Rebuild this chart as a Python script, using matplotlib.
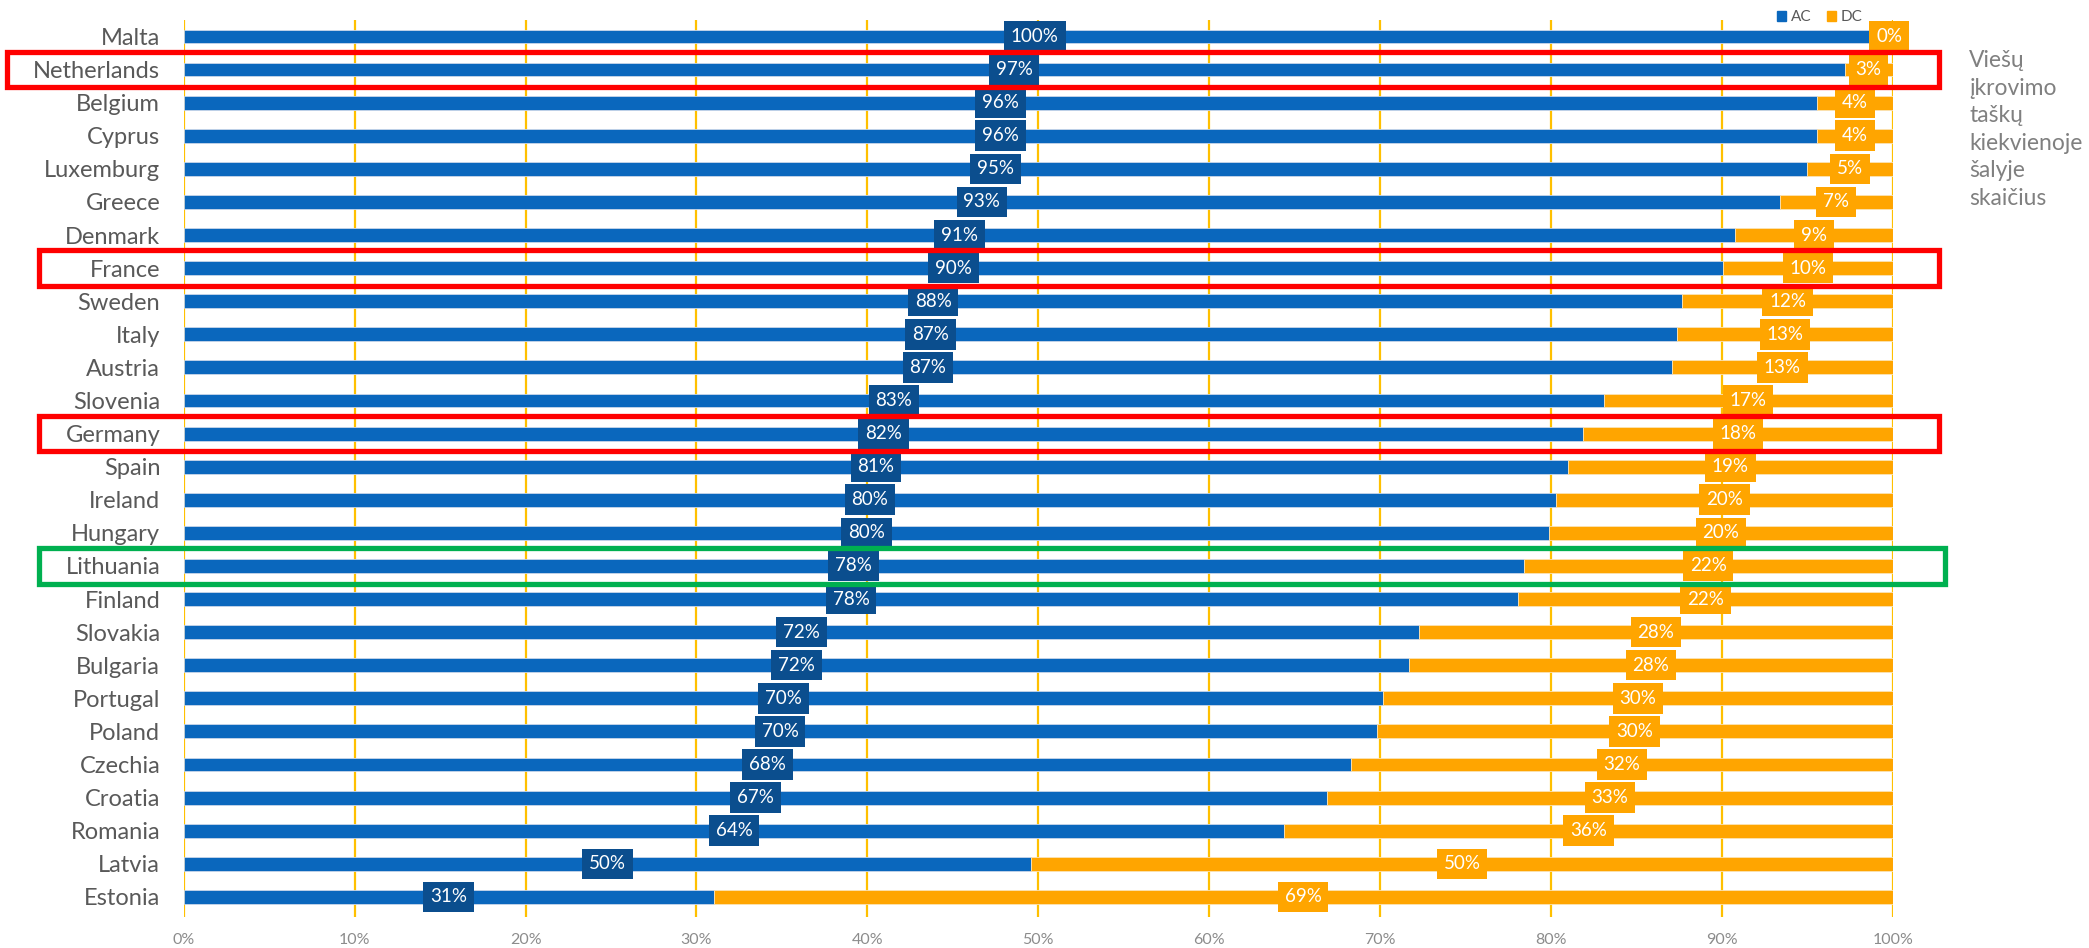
import matplotlib
matplotlib.use("Agg")
import matplotlib.pyplot as plt
import matplotlib.transforms as mtransforms
from matplotlib.patches import Rectangle, Patch
import numpy as np

countries = ["Malta", "Netherlands", "Belgium", "Cyprus", "Luxemburg", "Greece", "Denmark",
             "France", "Sweden", "Italy", "Austria", "Slovenia", "Germany", "Spain", "Ireland",
             "Hungary", "Lithuania", "Finland", "Slovakia", "Bulgaria", "Portugal", "Poland",
             "Czechia", "Croatia", "Romania", "Latvia", "Estonia"]
ac = [99.6, 97.2, 95.6, 95.6, 95.0, 93.4, 90.8, 90.1, 87.7, 87.4, 87.1, 83.1, 81.9, 81.0, 80.3,
      79.9, 78.4, 78.1, 72.3, 71.7, 70.2, 69.8, 68.3, 66.9, 64.4, 49.6, 31.0]
dc = [0.4, 2.8, 4.4, 4.4, 5.0, 6.6, 9.2, 9.9, 12.3, 12.6, 12.9, 16.9, 18.1, 19.0, 19.7,
      20.1, 21.6, 21.9, 27.7, 28.3, 29.8, 30.2, 31.7, 33.1, 35.6, 50.4, 69.0]
x_ticks = [0, 10, 20, 30, 40, 50, 60, 70, 80, 90, 100]
x_tick_labels = [f"{t}%" for t in x_ticks]
highlight = {"Netherlands": "#FF0000", "France": "#FF0000", "Germany": "#FF0000", "Lithuania": "#00B050"}
side_text = "Viešų\nįkrovimo\ntaškų\nkiekvienoje\nšalyje\nskaičius"

AC_COLOR = "#0A67BD"
AC_LABEL = "#0B4E8E"
DC_COLOR = "#FFA500"
GRID = "#FFC000"
FONT = ["Lato", "DejaVu Sans"]

plt.rcParams["font.family"] = FONT

fig = plt.figure(figsize=(20.89, 9.48), dpi=100)
ax = fig.add_axes([0.088, 0.033, 0.818, 0.946])

y = np.arange(len(countries))
ac_arr = np.array(ac)
dc_arr = np.array(dc)
h = 0.42
ax.barh(y, ac_arr, height=h, color=AC_COLOR, edgecolor="#C9D6EA", linewidth=0.6, zorder=3)
ax.barh(y, dc_arr, left=ac_arr, height=h, color=DC_COLOR, edgecolor="#FBE3B5", linewidth=0.6, zorder=3)

for i in range(len(countries)):
    ax.text(ac_arr[i] / 2, y[i], f"{round(ac_arr[i])}%", ha="center", va="center",
            fontsize=13.5, color="white", zorder=5,
            bbox=dict(boxstyle="square,pad=0.36", fc=AC_LABEL, ec="none"))
    ax.text(ac_arr[i] + dc_arr[i] / 2, y[i], f"{round(dc_arr[i])}%", ha="center", va="center",
            fontsize=13.5, color="white", zorder=5,
            bbox=dict(boxstyle="square,pad=0.36", fc=DC_COLOR, ec="none"))

ax.set_xlim(0, 100)
ax.set_ylim(len(countries) - 0.4, -0.5)
ax.set_xticks(x_ticks)
ax.set_xticklabels(x_tick_labels, fontsize=11.5, color="#8C8C8C")
ax.set_yticks(y)
ax.set_yticklabels(countries, fontsize=17, color="#595959")
ax.tick_params(axis="both", length=0)
ax.tick_params(axis="x", pad=12)
ax.tick_params(axis="y", pad=17)
for s in ax.spines.values():
    s.set_visible(False)
ax.xaxis.grid(True, color=GRID, linewidth=1.6, zorder=0)
ax.set_axisbelow(True)

# highlight rectangles (x in figure fraction, y in data rows)
trans = mtransforms.blended_transform_factory(fig.transFigure, ax.transData)
for name, col in highlight.items():
    i = countries.index(name)
    x0 = 0.0034 if name == "Netherlands" else 0.0185
    x1 = 0.931 if name == "Lithuania" else 0.928
    r = Rectangle((x0, i - 0.54), x1 - x0, 1.08, transform=trans, fill=False,
                  edgecolor=col, linewidth=3.8, clip_on=False, zorder=10)
    fig.add_artist(r)

# legend
handles = [Patch(color=AC_COLOR, label="AC"), Patch(color=DC_COLOR, label="DC")]
fig.legend(handles=handles, loc="center", bbox_to_anchor=(0.871, 0.982), ncol=2, frameon=False,
           fontsize=11, labelcolor="#595959", handlelength=0.6, handleheight=0.6,
           handletextpad=0.3, columnspacing=1.0)

fig.text(0.9426, 0.947, side_text, ha="left", va="top", fontsize=16.5, color="#808080",
         linespacing=1.38)

fig.savefig("out.png", dpi=100, facecolor="white")
